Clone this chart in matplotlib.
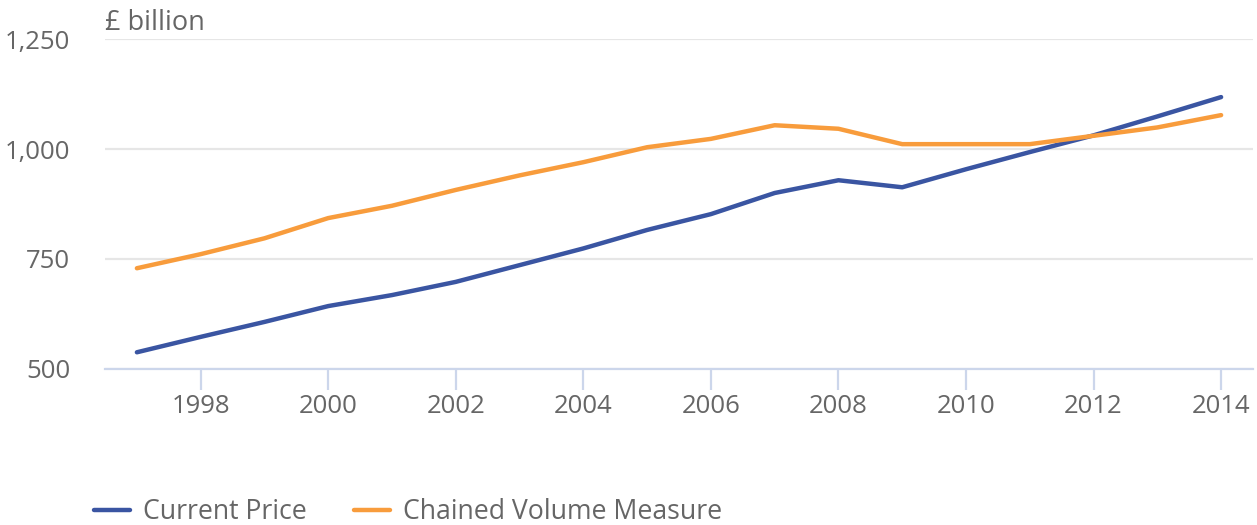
import matplotlib.pyplot as plt
from matplotlib.ticker import FuncFormatter

plt.rcParams["font.family"] = ["Open Sans", "DejaVu Sans"]

years = list(range(1997, 2015))
current_price = [538, 573, 607, 643, 668, 698, 736, 774, 816, 852,
                 900, 929, 913, 954, 993, 1031, 1074, 1118]
chained_volume = [729, 761, 797, 843, 871, 907, 940, 970, 1004, 1023,
                  1054, 1046, 1011, 1011, 1011, 1030, 1049, 1077]

blue = "#3a55a2"
orange = "#f89c3c"
text_grey = "#666666"

fig = plt.figure(figsize=(12.57, 5.25), dpi=100)
ax = fig.add_axes([105 / 1257, 1 - 369 / 525, 1148 / 1257, 330 / 525])

ax.plot(years, current_price, color=blue, lw=3.2, solid_capstyle="round",
        label="Current Price", zorder=3)
ax.plot(years, chained_volume, color=orange, lw=3.2, solid_capstyle="round",
        label="Chained Volume Measure", zorder=3)

ax.set_xlim(1996.5, 2014.5)
ax.set_ylim(500, 1250)
ax.set_yticks([500, 750, 1000, 1250])
ax.set_xticks(range(1998, 2015, 2))
ax.yaxis.set_major_formatter(FuncFormatter(lambda v, p: f"{int(v):,}"))

ax.grid(axis="y", color="#e6e6e6", lw=1.6)
ax.set_axisbelow(True)
for s in ["top", "right", "left"]:
    ax.spines[s].set_visible(False)
ax.spines["bottom"].set_color("#ccd6eb")
ax.spines["bottom"].set_linewidth(1.6)

ax.tick_params(axis="y", length=0, pad=25, labelsize=18.5, labelcolor=text_grey)
ax.tick_params(axis="x", length=15, width=1.6, color="#ccd6eb", pad=3,
               labelsize=18.5, labelcolor=text_grey)

fig.text(105 / 1257, 1 - 23 / 525, "£ billion", fontsize=19.5,
         color=text_grey, ha="left", va="center")

leg = fig.legend(loc="center left", bbox_to_anchor=(94 / 1257, 1 - 512 / 525),
                 ncol=2, frameon=False, fontsize=19.2, handlelength=1.35,
                 columnspacing=1.75, handletextpad=0.5, borderpad=0,
                 borderaxespad=0)
for t in leg.get_texts():
    t.set_color(text_grey)

fig.savefig("out.png", dpi=100, facecolor="white")
